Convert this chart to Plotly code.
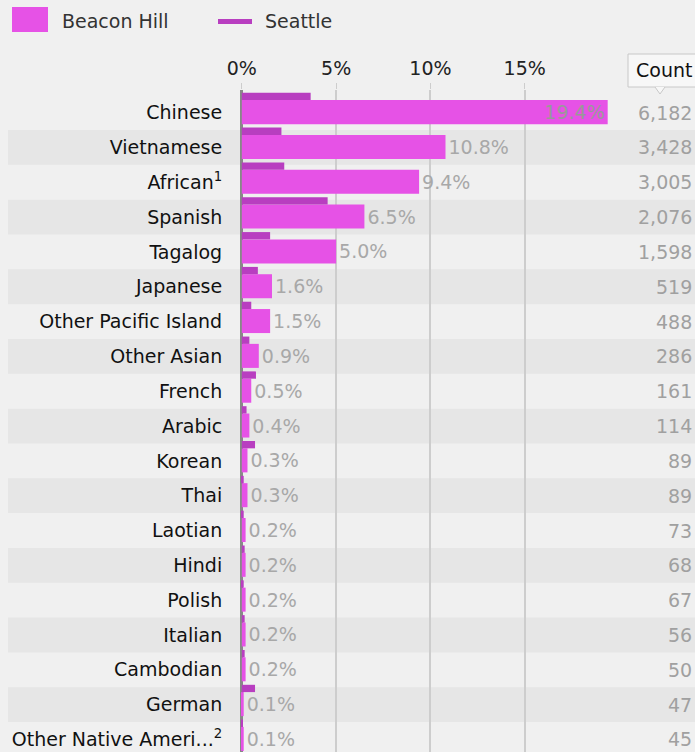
import plotly.graph_objects as go

languages = ["Chinese", "Vietnamese", "African<sup>1</sup>", "Spanish", "Tagalog", "Japanese",
             "Other Pacific Island", "Other Asian", "French", "Arabic", "Korean", "Thai",
             "Laotian", "Hindi", "Polish", "Italian", "Cambodian", "German",
             "Other Native Ameri...<sup>2</sup>"]
beacon_pct = [19.4, 10.8, 9.4, 6.5, 5.0, 1.6, 1.5, 0.9, 0.5, 0.4, 0.3, 0.3, 0.2, 0.2, 0.2, 0.2, 0.2, 0.1, 0.1]
seattle_pct = [3.65, 2.1, 2.25, 4.55, 1.5, 0.85, 0.5, 0.4, 0.75, 0.25, 0.7, 0.1, 0.1, 0.15, 0.1, 0.15, 0.15, 0.7, 0.05]
counts = [6182, 3428, 3005, 2076, 1598, 519, 488, 286, 161, 114, 89, 89, 73, 68, 67, 56, 50, 47, 45]
x_ticks = [0, 5, 10, 15]

W, H = 695, 752
ML, MR, MT, MB = 239, 76, 90, 0
PW, PH = W - ML - MR, H - MT - MB

def px(x):
    return (x - ML) / PW

def py(y):
    return (H - MB - y) / PH

FONT = "DejaVu Sans"
FS = 19
PINK = "#e652e6"
DARK = "#b83ec0"
BG = "#f0f0f0"
STRIPE = "#e6e6e6"

idx = list(range(len(languages)))
n = len(languages)

fig = go.Figure()
fig.add_trace(go.Bar(
    y=idx, x=beacon_pct, orientation="h", width=0.69, offset=-0.36,
    marker=dict(color=PINK, line=dict(width=0)),
    text=[f"{v:.1f}%" for v in beacon_pct],
    textposition=["inside"] + ["outside"] * (n - 1),
    insidetextanchor="end", constraintext="none", cliponaxis=False,
    textfont=dict(family=FONT, size=FS, color="#a8a8a8"),
    insidetextfont=dict(family=FONT, size=FS, color="#999999"),
    outsidetextfont=dict(family=FONT, size=FS, color="#a8a8a8"),
    name="Beacon Hill", showlegend=False, hoverinfo="skip",
))
fig.add_trace(go.Bar(
    y=idx, x=seattle_pct, orientation="h", width=0.21, offset=-0.57,
    marker=dict(color=DARK, line=dict(width=0)),
    name="Seattle", showlegend=False, hoverinfo="skip",
))

shapes = []
for i in idx:
    if i % 2 == 1:
        shapes.append(dict(type="rect", xref="paper", yref="y", x0=px(8), x1=px(697),
                           y0=i - 0.5, y1=i + 0.5, fillcolor=STRIPE, line=dict(width=0),
                           layer="below"))
# legend marks
shapes.append(dict(type="rect", xref="paper", yref="paper", x0=px(12), x1=px(48),
                   y0=py(32), y1=py(7), fillcolor=PINK, line=dict(width=0)))
shapes.append(dict(type="line", xref="paper", yref="paper", x0=px(218), x1=px(252),
                   y0=py(21.5), y1=py(21.5), line=dict(color=DARK, width=5)))
# Count header box with pointer
shapes.append(dict(type="rect", xref="paper", yref="paper", x0=px(628), x1=px(698),
                   y0=py(87), y1=py(54), fillcolor="#f7f7f7", line=dict(color="#c8c8c8", width=1)))
shapes.append(dict(type="path", xref="paper", yref="paper",
                   path=f"M {px(655)} {py(87)} L {px(660)} {py(94)} L {px(665)} {py(87)}",
                   fillcolor="#f7f7f7", line=dict(color="#c8c8c8", width=1)))

annotations = [
    dict(text="Beacon Hill", xref="paper", yref="paper", x=px(60), y=py(21), xanchor="left",
         yanchor="middle", showarrow=False, font=dict(family=FONT, size=FS, color="#333333")),
    dict(text="Seattle", xref="paper", yref="paper", x=px(263), y=py(21), xanchor="left",
         yanchor="middle", showarrow=False, font=dict(family=FONT, size=FS, color="#333333")),
    dict(text="Count", xref="paper", yref="paper", x=px(694), y=py(70), xanchor="right",
         yanchor="middle", showarrow=False, font=dict(family=FONT, size=FS, color="#111111")),
]
for i, c in zip(idx, counts):
    annotations.append(dict(text=f"{c:,}", xref="paper", yref="y", x=px(694), y=i,
                            xanchor="right", yanchor="middle", showarrow=False,
                            font=dict(family=FONT, size=FS, color="#a0a0a0")))

fig.update_layout(
    width=W, height=H, margin=dict(l=ML, r=MR, t=MT, b=MB),
    paper_bgcolor=BG, plot_bgcolor=BG, barmode="overlay",
    shapes=shapes, annotations=annotations, showlegend=False,
    font=dict(family=FONT, size=FS, color="#111111"),
    xaxis=dict(side="top", range=[-0.15, 20.0], tickvals=x_ticks,
               ticktext=[f"{t}%" for t in x_ticks], showgrid=True, gridcolor="#cdcdcd",
               gridwidth=1.5, zeroline=True, zerolinecolor="#888888", zerolinewidth=2.5,
               ticks="outside", ticklen=6, tickcolor="#cdcdcd", showline=False,
               tickfont=dict(family=FONT, size=FS, color="#222222"), fixedrange=True),
    yaxis=dict(range=[18.36, -0.65], tickvals=idx, ticktext=languages, showgrid=False,
               zeroline=False, showline=False, ticks="outside", ticklen=12,
               tickcolor="rgba(0,0,0,0)",
               tickfont=dict(family=FONT, size=FS, color="#111111"), fixedrange=True),
)

fig.write_html("out.html")
